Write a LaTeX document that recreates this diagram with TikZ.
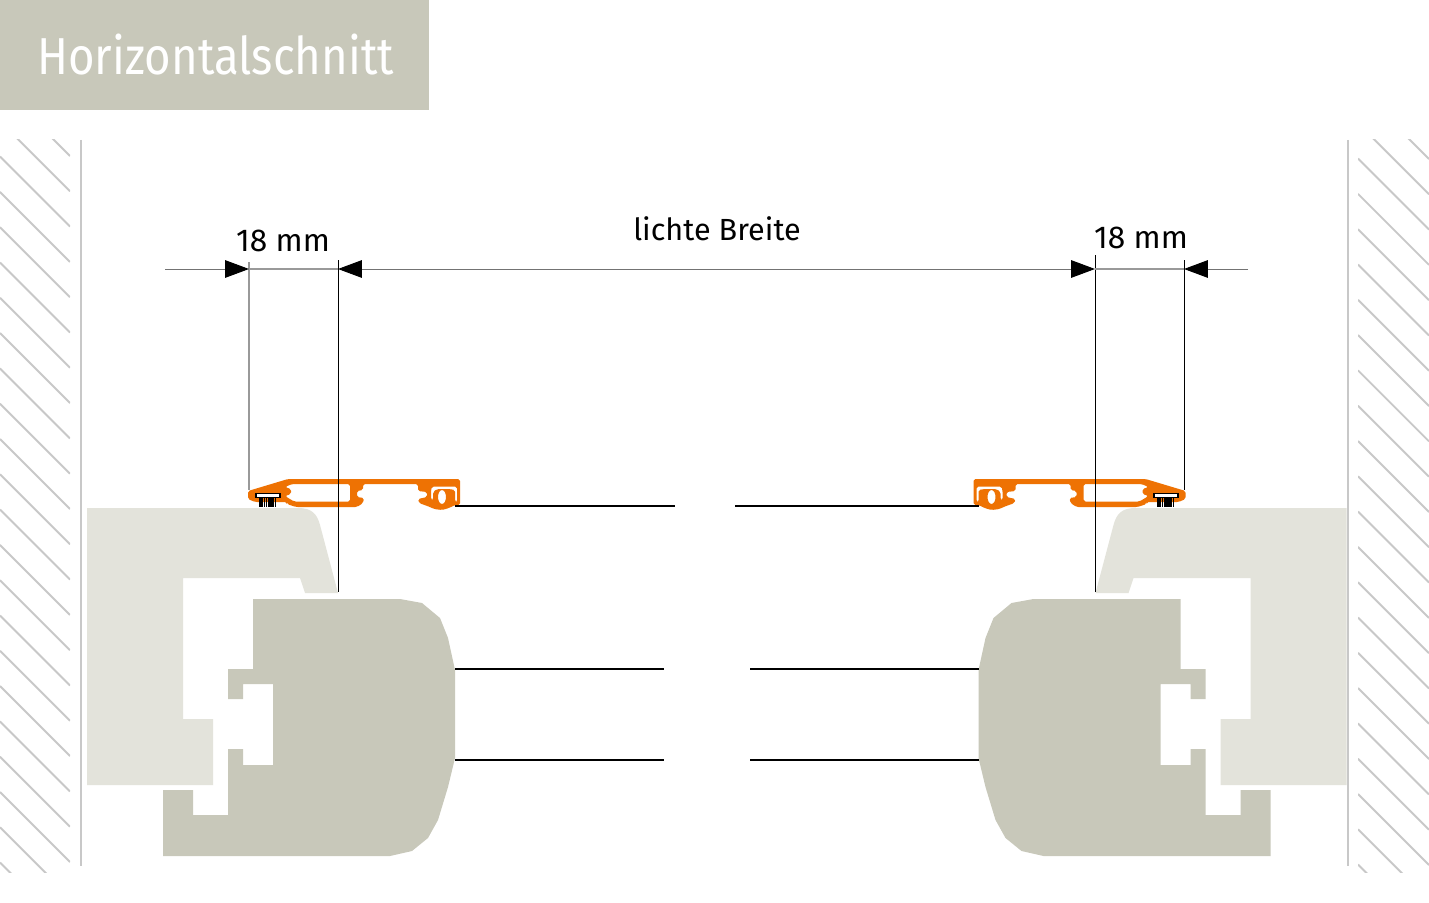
\documentclass[tikz,border=0pt]{standalone}
\usepackage{fontspec}
\setmainfont{Fira Sans}
\newfontfamily\titelfont[FakeStretch=0.875]{Fira Sans}
\usetikzlibrary{arrows.meta}
\definecolor{rahmen}{HTML}{E3E3DB}
\definecolor{fluegel}{HTML}{C8C8BA}
\definecolor{profil}{HTML}{EE7203}
\definecolor{wand}{HTML}{C8C8C8}
\tikzset{
  masstip/.tip={Triangle[length=13.6pt,width=10pt,black]},
  masslinie/.style={draw=black!40,line width=0.7pt},
  massrahmen/.style={draw=black,line width=0.55pt},
  masspfeil/.style={draw=black!55,line width=0.55pt},
  glasline/.style={draw=black,line width=0.6pt},
  schraffur/.style={draw=wand,line width=1.1pt},
  masstext/.style={font=\fontsize{18pt}{18pt}\selectfont,text=black,inner sep=0pt}
}
% one half of the section, the other half is mirrored
\newcommand{\halbschnitt}{
  \fill[rahmen] (87,508) -- (298,508) .. controls (312,508) and (317,514) .. (320,525) -- (338,593)
    -- (305,593) -- (300,578) -- (183,578) -- (183,719) -- (213,719) -- (213,785) -- (87,785) -- cycle;
  \fill[fluegel] (253,599) -- (400,599) -- (422,603) -- (440,618) -- (448,638) -- (455,670) -- (455,758)
    -- (448,787) -- (438,820) -- (428,838) -- (412,851) -- (390,856) -- (163,856) -- (163,790) -- (193,790)
    -- (193,815) -- (228,815) -- (228,749) -- (243,749) -- (243,765) -- (273,765) -- (273,684) -- (243,684)
    -- (243,699) -- (228,699) -- (228,669) -- (253,669) -- cycle;
  \fill[profil,even odd rule,rounded corners=1pt] (248,491) -- (288,479) -- (460,479) -- (460,505) -- (455,505)
    -- (449,508) -- (442,510) -- (434,509) -- (430,507) -- (419,503) -- (418,499) -- (427,497) -- (427,492)
    -- (418,491) -- (418,484) -- (363,484) -- (363,490) -- (357,491) -- (357,497) -- (364,498) -- (363,503)
    -- (357,507) -- (296,507) -- (287,504) -- (287,502) -- (255,502) -- (248,499) -- cycle
    (292,484) -- (350,484) -- (350,501.5) -- (294,501.5) -- (285,496) -- (291,494) -- (291,489) -- (285,487) -- cycle
    (432,486.5) -- (457,486.5) -- (457,502) -- (455,502) -- (455,490) -- (449,489) -- (437,489) -- (433,492)
    -- (433,500) -- (431,500) -- (431,490) -- cycle
    (442,497) ellipse (4 and 7);
  \foreach \b in {260,262.2,...,277}
    \draw[black,line width=1pt] (\b,498) -- (\b,507);
  \fill[black] (255,492.5) rectangle (281,498);
  \fill[white] (257,494) rectangle (279,497);
}

\begin{document}
\begin{tikzpicture}[x=0.02cm,y=-0.02cm]
\useasboundingbox (0,0) rectangle (1429,902);
\fill[white] (0,0) rectangle (1429,902);
\fill[fluegel] (0,0) rectangle (429,110);
\node[anchor=base west,inner sep=0pt,text=white,font=\titelfont\fontsize{29.6pt}{30pt}\selectfont] (titel) at (37,75) {Horizontalschnitt};

% walls
\begin{scope}
\clip (0,140) rectangle (70,872);
\foreach \c in {86,121.3,...,872}
  \draw[schraffur] (0,\c) -- ++(70,70);
\end{scope}
\begin{scope}
\clip (1358,140) rectangle (1429,872);
\foreach \c in {88,123.3,...,872}
  \draw[schraffur] (1358,\c) -- ++(71,71);
\end{scope}
\coordinate (wandAo) at (81,140);
\coordinate (wandAu) at (81,866);
\coordinate (wandBo) at (1348,140);
\coordinate (wandBu) at (1348,866);
\draw[schraffur] (wandAo) -- (wandAu);
\draw[schraffur] (wandBo) -- (wandBu);

\halbschnitt
\begin{scope}[shift={(1433.5,0)},xscale=-1]
\halbschnitt
\end{scope}

% glass
\coordinate (g1a) at (455,506); \coordinate (g1b) at (675,506);
\coordinate (g1c) at (735,506); \coordinate (g1d) at (979,506);
\coordinate (g2a) at (455,669); \coordinate (g2b) at (664,669);
\coordinate (g2c) at (750,669); \coordinate (g2d) at (979,669);
\coordinate (g3a) at (455,760); \coordinate (g3b) at (664,760);
\coordinate (g3c) at (750,760); \coordinate (g3d) at (979,760);
\draw[glasline] (g1a) -- (g1b);
\draw[glasline] (g1c) -- (g1d);
\draw[glasline] (g2a) -- (g2b);
\draw[glasline] (g2c) -- (g2d);
\draw[glasline] (g3a) -- (g3b);
\draw[glasline] (g3c) -- (g3d);

% dimensions
\coordinate (m1o) at (249,262); \coordinate (m1u) at (249,490);
\coordinate (m2o) at (338,260); \coordinate (m2u) at (338,592);
\coordinate (m3o) at (1095,255); \coordinate (m3u) at (1095,592);
\coordinate (m4o) at (1184,260); \coordinate (m4u) at (1184,490);
\draw[masslinie] (m1o) -- (m1u);
\draw[massrahmen] (m2o) -- (m2u);
\draw[massrahmen] (m3o) -- (m3u);
\draw[massrahmen] (m4o) -- (m4u);
\coordinate (a1) at (165,269); \coordinate (a1e) at (249,269);
\coordinate (a2) at (338,269);
\coordinate (a3) at (1095,269);
\coordinate (a4) at (1184,269); \coordinate (a4e) at (1248,269);
\draw[masspfeil,-masstip] (a1) -- (a1e);
\draw[masslinie] (a1e) -- (a2);
\draw[masspfeil,masstip-masstip] (a2) -- (a3);
\draw[masslinie] (a3) -- (a4);
\draw[masspfeil,-masstip] (a4e) -- (a4);

\node[masstext,anchor=base] (links) at (283,252) {18 mm};
\node[masstext,anchor=base,font=\fontsize{17.4pt}{18pt}\selectfont] (mitte) at (717,240) {lichte Breite};
\node[masstext,anchor=base] (rechts) at (1141,248) {18 mm};
\end{tikzpicture}
\end{document}
